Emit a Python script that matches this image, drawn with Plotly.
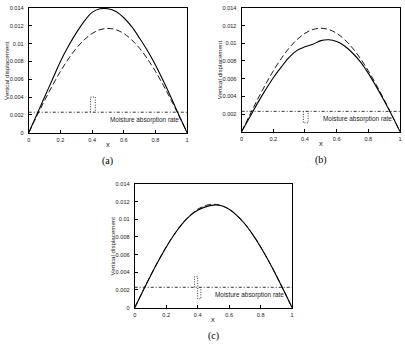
import plotly.graph_objects as go

x = [0, 0.05, 0.1, 0.15, 0.2, 0.25, 0.3, 0.35, 0.4, 0.45, 0.5,
     0.55, 0.6, 0.65, 0.7, 0.75, 0.8, 0.85, 0.9, 0.95, 1.0]

dashed_ref = [0, 0.00183, 0.00362, 0.00531, 0.00688, 0.00827, 0.00947, 0.01042, 0.01113, 0.01156, 0.0117,
              0.01156, 0.01113, 0.01042, 0.00947, 0.00827, 0.00688, 0.00531, 0.00362, 0.00183, 0]

solid_a = [0, 0.0020, 0.0040, 0.0060, 0.0080, 0.0097, 0.0112, 0.0125, 0.0135, 0.0139, 0.0139,
           0.0136, 0.0129, 0.0119, 0.0106, 0.0092, 0.0076, 0.0058, 0.0039, 0.0019, 0]
solid_b = [0, 0.0016, 0.0032, 0.0047, 0.0061, 0.0073, 0.0084, 0.0092, 0.0096, 0.0099, 0.0103,
           0.0104, 0.0102, 0.0097, 0.0089, 0.0079, 0.0066, 0.0051, 0.0035, 0.0018, 0]
solid_c = [0, 0.00180, 0.00358, 0.00527, 0.00684, 0.00824, 0.00944, 0.01038, 0.01102, 0.01140, 0.01160,
           0.01152, 0.01112, 0.01041, 0.00946, 0.00826, 0.00687, 0.00530, 0.00361, 0.00182, 0]

rate_base = 0.0023
pulse_a_x = [0.39, 0.39, 0.42, 0.42]
pulse_a_y = [0.0023, 0.0040, 0.0040, 0.0023]
pulse_b_x = [0.39, 0.39, 0.42, 0.42]
pulse_b_y = [0.0023, 0.0010, 0.0010, 0.0023]
pulse_c_x = [0.38, 0.38, 0.40, 0.40, 0.42, 0.42]
pulse_c_y = [0.0023, 0.0035, 0.0035, 0.0010, 0.0010, 0.0023]

yticks_full = [0, 0.002, 0.004, 0.006, 0.008, 0.01, 0.012, 0.014]
yticks_b = [0.002, 0.004, 0.006, 0.008, 0.01, 0.012, 0.014]
xticks = [0, 0.2, 0.4, 0.6, 0.8, 1]

panels = [
    dict(name="(a)", solid=solid_a, px=pulse_a_x, py=pulse_a_y, yt=yticks_full,
         dx=[0.0667, 0.4617], dy=[0.6185, 0.9855]),
    dict(name="(b)", solid=solid_b, px=pulse_b_x, py=pulse_b_y, yt=yticks_b,
         dx=[0.5975, 0.9926], dy=[0.6215, 0.9855]),
    dict(name="(c)", solid=solid_c, px=pulse_c_x, py=pulse_c_y, yt=yticks_full,
         dx=[0.331, 0.7235], dy=[0.104, 0.468]),
]

fig = go.Figure()
tickfont = dict(family="Liberation Sans", size=5.6, color="#222")
annotations = []
for i, p in enumerate(panels, start=1):
    xa = "x" if i == 1 else f"x{i}"
    ya = "y" if i == 1 else f"y{i}"
    fig.add_trace(go.Scatter(x=x, y=dashed_ref, mode="lines", xaxis=xa, yaxis=ya, line_shape="spline",
                             line=dict(color="black", width=0.9, dash="6px,3px"), showlegend=False))
    fig.add_trace(go.Scatter(x=x, y=p["solid"], mode="lines", xaxis=xa, yaxis=ya, line_shape="spline",
                             line=dict(color="black", width=1.1), showlegend=False))
    fig.add_trace(go.Scatter(x=[0, 1], y=[rate_base, rate_base], mode="lines", xaxis=xa, yaxis=ya,
                             line=dict(color="black", width=0.8, dash="3px,2px,1px,2px"), showlegend=False))
    fig.add_trace(go.Scatter(x=p["px"], y=p["py"], mode="lines", xaxis=xa, yaxis=ya,
                             line=dict(color="black", width=0.8, dash="1px,1.5px"), showlegend=False))
    axkey = "xaxis" if i == 1 else f"xaxis{i}"
    aykey = "yaxis" if i == 1 else f"yaxis{i}"
    fig.layout[axkey] = dict(domain=p["dx"], anchor=ya, range=[0, 1], tickvals=xticks,
                             ticktext=["0", "0.2", "0.4", "0.6", "0.8", "1"],
                             ticks="inside", ticklen=3, tickcolor="black", showline=True,
                             linecolor="black", linewidth=1, mirror=True, showgrid=False,
                             zeroline=False, tickfont=tickfont, ticklabelstandoff=2)
    fig.layout[aykey] = dict(domain=p["dy"], anchor=xa, range=[0, 0.014], tickvals=p["yt"],
                             ticktext=[("0" if v == 0 else ("0.01" if abs(v - 0.01) < 1e-9 else f"{v:.3f}")) for v in p["yt"]],
                             ticks="inside", ticklen=3, tickcolor="black", showline=True,
                             linecolor="black", linewidth=1, mirror=True, showgrid=False,
                             zeroline=False, tickfont=tickfont, ticklabelstandoff=3)
    annotations.append(dict(x=0.5, y=0.0014, xref=xa, yref=ya, text="Moisture absorption rate",
                            showarrow=False, xanchor="left", yanchor="middle",
                            font=dict(family="Liberation Sans", size=6.4, color="#222")))
    cx = (p["dx"][0] + p["dx"][1]) / 2
    annotations.append(dict(x=cx, y=p["dy"][0] - 0.035, xref="paper", yref="paper", text="x",
                            showarrow=False, xanchor="center", yanchor="middle",
                            font=dict(family="Liberation Sans", size=7.5, color="#222")))
    annotations.append(dict(x=p["dx"][0] - 0.055, y=(p["dy"][0] + p["dy"][1]) / 2, xref="paper", yref="paper",
                            text="Vertical displacement", textangle=-90, showarrow=False,
                            xanchor="center", yanchor="middle",
                            font=dict(family="Liberation Sans", size=6.2, color="#222")))
    annotations.append(dict(x=cx, y=p["dy"][0] - 0.083, xref="paper", yref="paper", text=p["name"],
                            showarrow=False, xanchor="center", yanchor="middle",
                            font=dict(family="Liberation Serif", size=10, color="black")))

fig.update_layout(width=405, height=346, margin=dict(l=0, r=0, t=0, b=0),
                  plot_bgcolor="white", paper_bgcolor="white", annotations=annotations)
fig.write_html("out.html")
